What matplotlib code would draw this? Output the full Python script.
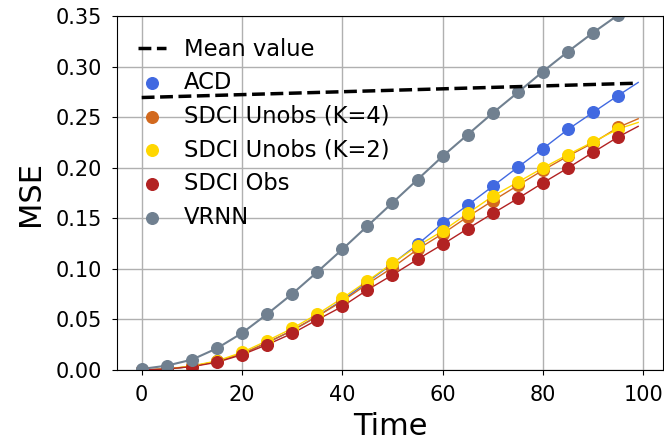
import matplotlib
matplotlib.use("Agg")
import matplotlib.pyplot as plt
import numpy as np

# time points: dots every 5 steps, line ends at 99
time = [0, 5, 10, 15, 20, 25, 30, 35, 40, 45, 50, 55, 60, 65, 70, 75, 80, 85, 90, 95, 99]

mean_time = [0, 99]
mean_value = [0.2694, 0.2836]

acd = [0.0, 0.001, 0.0035, 0.0085, 0.016, 0.027, 0.039, 0.053, 0.069, 0.087, 0.105,
       0.1242, 0.1449, 0.163, 0.1817, 0.2005, 0.2189, 0.2379, 0.2547, 0.2714, 0.2843]
sdci_k4 = [0.0, 0.001, 0.0035, 0.0085, 0.016, 0.027, 0.039, 0.053, 0.068, 0.085, 0.1012,
           0.1193, 0.1347, 0.1515, 0.1673, 0.1825, 0.1975, 0.2115, 0.2245, 0.2399, 0.2484]
sdci_k2 = [0.0, 0.001, 0.004, 0.009, 0.0174, 0.0289, 0.0411, 0.0552, 0.071, 0.088, 0.1055,
           0.1226, 0.1374, 0.1548, 0.1719, 0.1857, 0.1998, 0.213, 0.2255, 0.2383, 0.2448]
sdci_obs = [0.0, 0.001, 0.0033, 0.0076, 0.0151, 0.025, 0.0361, 0.0496, 0.0628, 0.0792, 0.094,
            0.1094, 0.1242, 0.1397, 0.1548, 0.1696, 0.185, 0.1998, 0.2152, 0.2304, 0.2409]
vrnn = [0.001, 0.0043, 0.0102, 0.0214, 0.0365, 0.0552, 0.0752, 0.0969, 0.1193, 0.1423, 0.1653,
        0.1883, 0.2113, 0.2327, 0.2541, 0.2744, 0.2951, 0.3148, 0.3335, 0.351, 0.364]

series = [
    ("ACD", acd, "#4169E1", 1.0),
    ("SDCI Unobs (K=4)", sdci_k4, "#D2691E", 1.0),
    ("SDCI Unobs (K=2)", sdci_k2, "#FFD700", 1.0),
    ("SDCI Obs", sdci_obs, "#B22222", 1.0),
    ("VRNN", vrnn, "#708090", 1.5),
]

fig = plt.figure(figsize=(6.64, 4.41), dpi=100)
ax = fig.add_axes([0.176, 0.1610, 0.8225, 0.8027])

ax.plot(mean_time, mean_value, "--", color="black", lw=2.5, label="Mean value", zorder=3)
for name, vals, col, lw in series:
    ax.plot(time, vals, color=col, lw=lw, zorder=2)
    ax.scatter(time[:-1], vals[:-1], color=col, s=70, label=name, zorder=2.5)

ax.set_ylim(0, 0.35)
ax.set_xticks([0, 20, 40, 60, 80, 100])
ax.set_yticks(np.arange(0, 0.351, 0.05))
ax.grid(True, color="#b0b0b0", lw=1.0)
ax.set_axisbelow(True)
ax.tick_params(labelsize=15, pad=7)
ax.set_xlabel("Time", fontsize=22, labelpad=5)
ax.set_ylabel("MSE", fontsize=22, labelpad=8)
ax.legend(loc="upper left", fontsize=16.3, frameon=False, handlelength=1.2,
          handletextpad=0.8, labelspacing=0.47, borderaxespad=0.55, borderpad=0.4)

fig.savefig("out.png", dpi=100)
